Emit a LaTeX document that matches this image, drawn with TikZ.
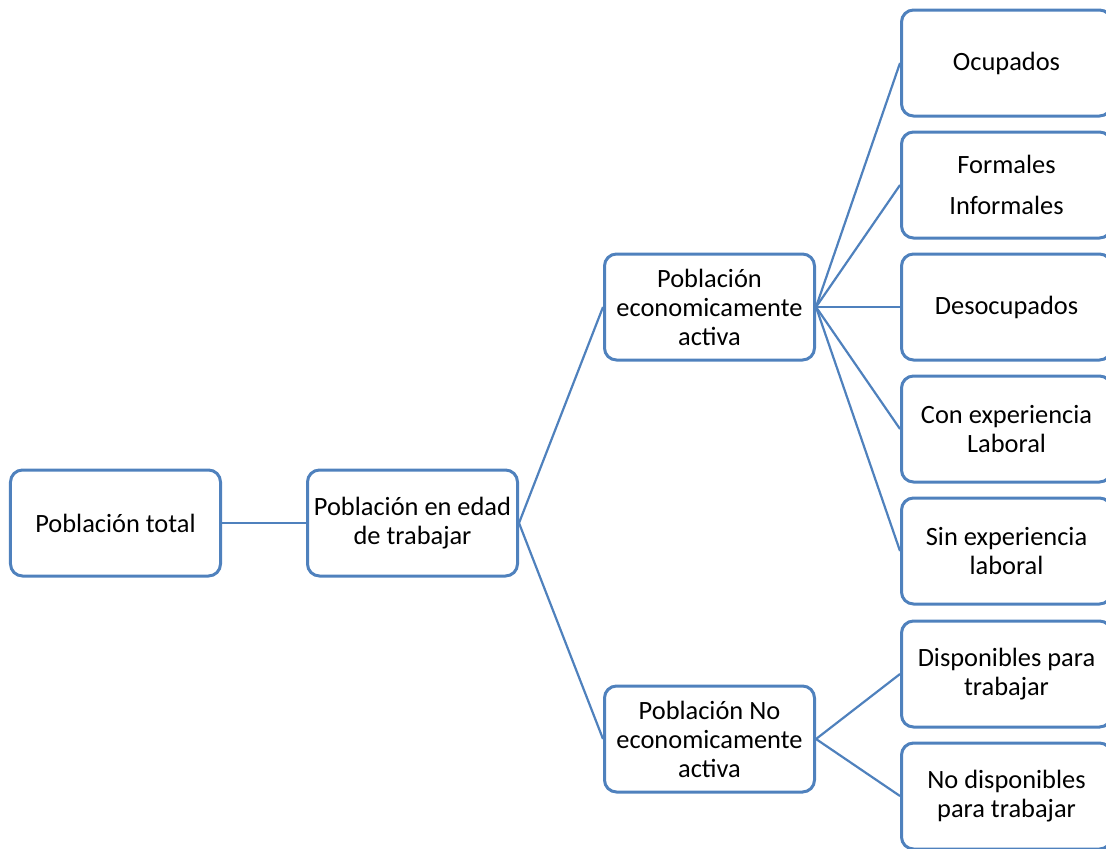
\documentclass[tikz,border=0pt]{standalone}
\usepackage{fontspec}
\setmainfont{Carlito}
\usetikzlibrary{positioning}
\definecolor{boxblue}{HTML}{4F81BD}
\tikzset{
  box/.style={draw=boxblue, line width=1.5pt, rounded corners=6pt, align=center,
    minimum width=105pt, minimum height=53pt, inner sep=2pt,
    font=\fontsize{13.2}{14.5}\selectfont},
  link/.style={draw=boxblue, line width=1.1pt},
}

\begin{document}
\begin{tikzpicture}
      \useasboundingbox (-4.5pt,261.5pt) rectangle (548.5pt,-162.5pt);
      \node[box, anchor=west] (total) at (0,0) {Población total};
      \node[box, right = 42pt of total] (edad) {Población en edad\\de trabajar};
      \node[box, above right = 53.5pt and 42pt of edad] (pea) {Población\\economicamente\\activa};
      \node[box, below right = 53.5pt and 42pt of edad] (pnea) {Población No\\economicamente\\activa};

      \node[box, right = 42pt of pea] (desoc) {Desocupados};
      \node[box, above = 6.5pt of desoc] (formal) {Formales\\[6pt]Informales};
      \node[box, above = 6.5pt of formal] (ocup) {Ocupados};
      \node[box, below = 6.5pt of desoc] (conexp) {Con experiencia\\Laboral};
      \node[box, below = 6.5pt of conexp] (sinexp) {Sin experiencia\\laboral};
      \node[box, below = 7pt of sinexp] (disp) {Disponibles para\\trabajar};
      \node[box, below = 6.5pt of disp] (nodisp) {No disponibles\\para trabajar};

      \draw[link] (total) -- (edad);
      \draw[link] (edad.east) -- (pea.west);
      \draw[link] (edad.east) -- (pnea.west);
      \foreach \n in {ocup, formal, desoc, conexp, sinexp}
        \draw[link] (pea.east) -- (\n.west);
      \draw[link] (pnea.east) -- (disp.west);
      \draw[link] (pnea.east) -- (nodisp.west);
\end{tikzpicture}
\end{document}
